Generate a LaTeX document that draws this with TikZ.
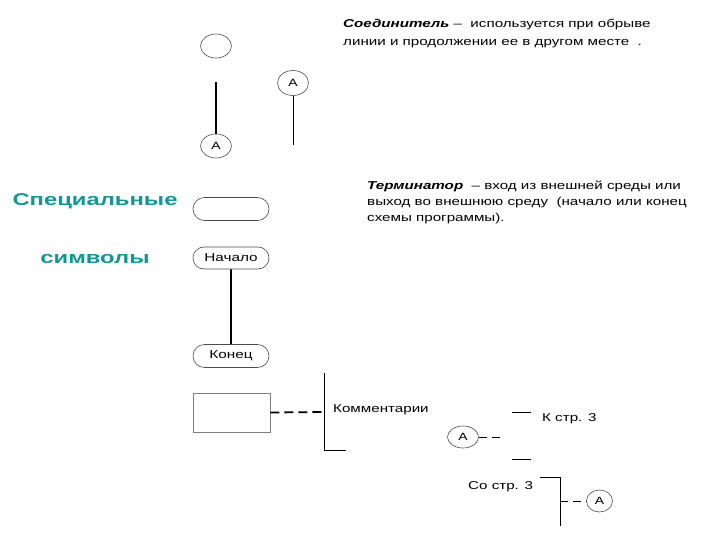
\documentclass[tikz,border=0pt]{standalone}
\usepackage{fontspec}
\setmainfont{Liberation Sans}
\newfontfamily\widefont[FakeStretch=1.33]{Liberation Sans}
\newfontfamily\titlefont[FakeStretch=1.4]{Liberation Sans}
\usetikzlibrary{shapes.geometric,shapes.misc}
\definecolor{tealtxt}{RGB}{20,150,150}
\tikzset{
  conn/.style={ellipse,draw=black!70,line width=0.6pt,minimum width=31pt,minimum height=24pt,inner sep=0pt,font=\widefont\fontsize{10.5}{12}\selectfont},
  term/.style={rounded rectangle,draw=black!70,line width=0.6pt,minimum width=76pt,minimum height=22pt,inner sep=0pt,font=\widefont\fontsize{11.5}{13}\selectfont},
  descline/.style={anchor=base west,inner sep=0pt,font=\widefont\fontsize{11.4}{13}\selectfont},
  lbl/.style={anchor=west,inner sep=0pt,font=\widefont\fontsize{11.4}{13}\selectfont},
  thickln/.style={line width=1.8pt},
  thinln/.style={line width=0.8pt},
  big/.style={inner sep=0pt,text=tealtxt,font=\titlefont\fontsize{17}{20}\selectfont\bfseries}
}
\begin{document}
\begin{tikzpicture}[x=1pt,y=-1pt]
\useasboundingbox (0,0) rectangle (720,540);
% left title
\node[big] (t1) at (95,201) {Специальные};
\node[big] (t2) at (95,259) {символы};
% connectors
\node[conn,minimum height=24pt] (c0) at (216,46) {};
\node[conn] (c1) at (216,146) {A};
\coordinate (c1top) at (216,82);
\draw[thickln] (c1top) -- (c1);
\node[conn,minimum height=25pt] (c2) at (293,83) {A};
\coordinate (c2bot) at (293,145);
\draw[thinln] (c2) -- (c2bot);
\node[descline] (d1a) at (343,28) {\textbf{\textit{Соединитель}} –\ \ используется при обрыве};
\node[descline] (d1b) at (343,45.5) {линии и продолжении ее в другом месте\ \ .};
% terminators
\node[term,minimum height=23pt] (tm0) at (231,209) {};
\node[term] (tm1) at (231,258) {Начало};
\node[term,minimum height=23pt] (tm2) at (231,356) {Конец};
\draw[thickln] (tm1) -- (tm2);
\node[descline] (d2a) at (367,190) {\textbf{\textit{Терминатор}}\ \ – вход из внешней среды или};
\node[descline] (d2b) at (367,206) {выход во внешнюю среду\ \ (начало или конец};
\node[descline] (d2c) at (367,222) {схемы программы).};
% comment
\node[draw=black!50,line width=0.6pt,minimum width=77pt,minimum height=39pt,inner sep=0pt] (r) at (231.5,412.5) {};
\coordinate (bk1) at (324,412);
\coordinate (bk1t) at (324,373);
\coordinate (bk1b) at (324,450);
\coordinate (bk1e) at (346,450);
\draw[thickln,dash pattern=on 9pt off 5pt] (r.east) -- (bk1);
\draw[thinln] (bk1t) -- (bk1b) -- (bk1e);
\node[lbl] (cm) at (333,410) {Комментарии};
% off-page connectors
\node[conn,minimum width=31pt,minimum height=22pt] (a1) at (463,437) {A};
\coordinate (a1e) at (504,437);
\draw[thinln,dash pattern=on 8pt off 5pt] (a1) -- (a1e);
\coordinate (k1a) at (512,412);
\coordinate (k1b) at (531,412);
\coordinate (k2a) at (512,459);
\coordinate (k2b) at (531,459);
\draw[thinln] (k1a) -- (k1b);
\draw[thinln] (k2a) -- (k2b);
\node[lbl] (ks) at (542,419) {К стр. 3};
\node[lbl] (ss) at (468,487) {Со стр. 3};
\coordinate (s1) at (540,477);
\coordinate (s2) at (560,477);
\coordinate (s3) at (560,526);
\coordinate (s4) at (560,501);
\draw[thinln] (s1) -- (s2) -- (s3);
\node[conn,minimum width=26pt,minimum height=22pt] (a2) at (599.5,501) {A};
\draw[thinln,dash pattern=on 8pt off 5pt] (s4) -- (a2);
\end{tikzpicture}
\end{document}
